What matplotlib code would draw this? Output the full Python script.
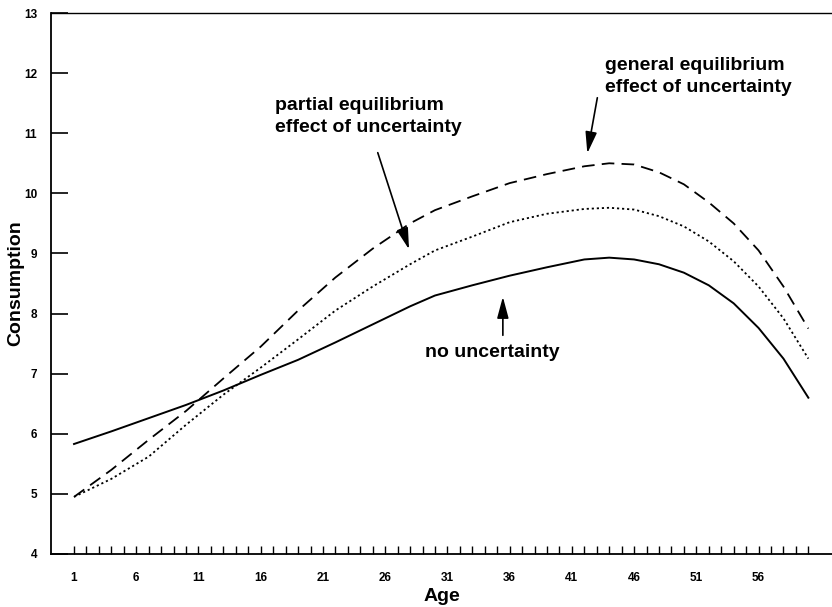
import matplotlib.pyplot as plt

plt.rcParams['font.family'] = ['Liberation Sans', 'DejaVu Sans']

ages = [1, 4, 7, 10, 13, 16, 19, 22, 25, 28, 30, 33, 36, 39, 42, 44, 46, 48, 50, 52, 54, 56, 58, 60]
no_unc = [5.83, 6.04, 6.26, 6.48, 6.72, 6.98, 7.23, 7.52, 7.82, 8.12, 8.30, 8.47, 8.63, 8.77,
          8.90, 8.93, 8.90, 8.82, 8.68, 8.47, 8.17, 7.76, 7.25, 6.60]
partial = [4.95, 5.25, 5.62, 6.15, 6.65, 7.10, 7.57, 8.05, 8.45, 8.82, 9.05, 9.28, 9.52, 9.66,
           9.74, 9.76, 9.73, 9.62, 9.45, 9.20, 8.87, 8.45, 7.92, 7.25]
general = [4.95, 5.40, 5.90, 6.38, 6.92, 7.45, 8.05, 8.60, 9.08, 9.50, 9.72, 9.95, 10.17, 10.32,
           10.45, 10.50, 10.48, 10.35, 10.15, 9.85, 9.50, 9.05, 8.45, 7.75]
tick_ages = list(range(1, 61))
label_ages = list(range(1, 57, 5))

fig = plt.figure(figsize=(8.32, 6.07), dpi=100)
ax = fig.add_axes([51/832, 1 - 554/607, 1 - 51/832, (554 - 13)/607])

ax.plot(ages, no_unc, color='black', lw=1.4, ls='-')
ax.plot(ages, partial, color='black', lw=1.3, ls=(0, (1.2, 1.6)))
ax.plot(ages, general, color='black', lw=1.3, ls=(0, (7, 4)))

ax.set_xlim(-0.85, 61.9)
ax.set_ylim(4, 13)
ax.spines['right'].set_visible(False)
for s in ['left', 'bottom']:
    ax.spines[s].set_linewidth(1.3)
ax.spines['top'].set_linewidth(1.0)

ax.set_xticks(tick_ages, minor=True)
ax.set_xticks(label_ages)
ax.set_xticklabels([str(a) for a in label_ages])
ax.tick_params(axis='x', which='both', direction='in', length=6, width=1.0, pad=13,
               labelsize=8.5)
ax.set_yticks(range(4, 14))
ax.tick_params(axis='y', direction='in', length=12, width=1.2, pad=10, labelsize=8.5)
for lab in ax.get_xticklabels() + ax.get_yticklabels():
    lab.set_fontweight('bold')

ax.set_xlabel('Age', fontsize=14, fontweight='bold')
ax.set_ylabel('Consumption', fontsize=14, fontweight='bold')
ax.xaxis.set_label_coords(0.5, -0.063)
ax.yaxis.set_label_coords(-0.034, 0.5)

def px(x, y):
    # picture pixel -> data coords
    return (-0.85 + (x - 51) / 12.45, 13 - (y - 13) / 60.1)

arrow = dict(arrowstyle='-|>,head_length=1.3,head_width=0.35', color='black', lw=1.2)
ax.annotate('general equilibrium\neffect of uncertainty', xy=px(587, 156), xytext=px(605, 57),
            fontsize=14, fontweight='bold', ha='left', va='top', linespacing=1.35)
ax.annotate('', xy=px(587, 156), xytext=px(598, 95), arrowprops=arrow)

ax.annotate('partial equilibrium\neffect of uncertainty', xy=px(410, 252), xytext=px(275, 97),
            fontsize=14, fontweight='bold', ha='left', va='top', linespacing=1.35)
ax.annotate('', xy=px(410, 252), xytext=px(377, 150), arrowprops=arrow)

ax.text(*px(425, 352), 'no uncertainty', fontsize=14, fontweight='bold', ha='left', va='center')
ax.annotate('', xy=px(503, 294), xytext=px(503, 338), arrowprops=arrow)

fig.savefig('out.png', dpi=100)
